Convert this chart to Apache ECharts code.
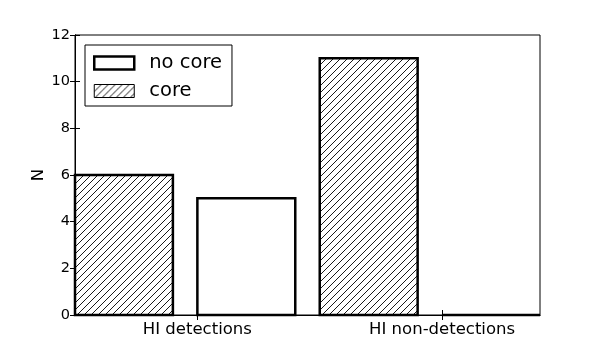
<!DOCTYPE html>
<html>
<head>
<meta charset="utf-8">
<script src="https://cdn.jsdelivr.net/npm/echarts@6/dist/echarts.min.js"></script>
<style>html,body{margin:0;padding:0;background:#fff}#c{width:600px;height:350px}</style>
</head>
<body>
<div id="c"></div>
<script>
const categories = ['HI detections', 'HI non-detections'];
const coreValues = [6, 11];
const noCoreValues = [5, 0];
const yTicks = [0, 2, 4, 6, 8, 10, 12];
const seriesNames = ['no core', 'core'];

const FONT = 'DejaVu Sans';
const BAR_W = 0.8;

function makeHatch() {
  const s = 7;
  const cv = document.createElement('canvas');
  cv.width = s; cv.height = s;
  const ctx = cv.getContext('2d');
  ctx.fillStyle = '#fff';
  ctx.fillRect(0, 0, s, s);
  ctx.strokeStyle = '#000';
  ctx.lineWidth = 0.9;
  ctx.beginPath();
  ctx.moveTo(-1, s + 1); ctx.lineTo(s + 1, -1);
  ctx.moveTo(-1, 1); ctx.lineTo(1, -1);
  ctx.moveTo(s - 1, s + 1); ctx.lineTo(s + 1, s - 1);
  ctx.stroke();
  return cv;
}
const hatch = { image: makeHatch(), repeat: 'repeat' };

// core bars at position 2*i, no-core bars at 2*i+1 (edge-aligned)
const coreData = coreValues.map((v, i) => [2 * i, v]);
const noCoreData = noCoreValues.map((v, i) => [2 * i + 1, v]);

function makeRender(fill, lw) {
  return function (params, api) {
    const x0 = api.value(0), v = api.value(1);
    const p0 = api.coord([x0, v]);
    const p1 = api.coord([x0 + BAR_W, 0]);
    return {
      type: 'rect',
      shape: { x: p0[0], y: p0[1], width: p1[0] - p0[0], height: p1[1] - p0[1] },
      style: { fill: fill, stroke: '#000', lineWidth: lw }
    };
  };
}

const chart = echarts.init(document.getElementById('c'), null, { renderer: 'canvas' });
chart.setOption({
  animation: false,
  backgroundColor: '#fff',
  textStyle: { fontFamily: FONT },
  grid: { left: 75, right: 60, top: 35, bottom: 35, show: true, borderColor: '#000', borderWidth: 1, backgroundColor: 'transparent' },
  legend: {
    orient: 'vertical',
    left: 85, top: 45,
    backgroundColor: '#fff',
    borderColor: '#000', borderWidth: 1,
    padding: [8, 10, 5, 8],
    itemWidth: 40, itemHeight: 13, itemGap: 8,
    textStyle: { fontFamily: FONT, fontSize: 19.5, color: '#000', padding: [0, 0, 0, 10] },
    data: [
      { name: seriesNames[0], icon: 'rect', itemStyle: { color: '#fff', borderColor: '#000', borderWidth: 2.5 } },
      { name: seriesNames[1], icon: 'rect', itemStyle: { color: hatch, borderColor: '#000', borderWidth: 1 } }
    ]
  },
  xAxis: [{
    type: 'value', min: 0, max: 3.8, interval: 1,
    axisLine: { show: true, lineStyle: { color: '#000', width: 1 } },
    axisTick: { show: true, inside: true, length: 5, lineStyle: { color: '#000' },
      customValues: [1, 3] },
    axisLabel: { show: true, color: '#000', fontFamily: FONT, fontSize: 16.5, margin: 6,
      customValues: [1, 3],
      formatter: function (v) { return categories[Math.round((v - 1) / 2)] || ''; } },
    splitLine: { show: false }
  }, {
    type: 'value', position: 'top', min: 0, max: 3.8, interval: 1,
    axisLine: { show: true, lineStyle: { color: '#000', width: 1 } },
    axisTick: { show: true, inside: true, length: 5, lineStyle: { color: '#000' }, customValues: [1, 3] },
    axisLabel: { show: false },
    splitLine: { show: false }
  }],
  yAxis: [{
    type: 'value', min: yTicks[0], max: yTicks[yTicks.length - 1], interval: 2,
    name: 'N', nameLocation: 'middle', nameGap: 28, nameMoveOverlap: false,
    nameTextStyle: { fontFamily: FONT, fontSize: 16.5, color: '#000' },
    axisLine: { show: true, lineStyle: { color: '#000', width: 1 } },
    axisTick: { show: true, inside: true, length: 5, lineStyle: { color: '#000' } },
    axisLabel: { color: '#000', fontFamily: FONT, fontSize: 14.5, margin: 5 },
    splitLine: { show: false }
  }, {
    type: 'value', position: 'right', min: yTicks[0], max: yTicks[yTicks.length - 1], interval: 2,
    axisLine: { show: true, lineStyle: { color: '#000', width: 1 } },
    axisTick: { show: true, inside: true, length: 5, lineStyle: { color: '#000' } },
    axisLabel: { show: false },
    splitLine: { show: false }
  }],
  series: [{
    name: seriesNames[0], type: 'custom', xAxisIndex: 0, yAxisIndex: 0,
    itemStyle: { color: '#fff', borderColor: '#000', borderWidth: 2.5 },
    renderItem: makeRender('#fff', 2.5),
    encode: { x: 0, y: 1 },
    data: noCoreData, z: 2
  }, {
    name: seriesNames[1], type: 'custom', xAxisIndex: 0, yAxisIndex: 0,
    itemStyle: { color: hatch, borderColor: '#000', borderWidth: 1 },
    renderItem: makeRender(hatch, 2.5),
    encode: { x: 0, y: 1 },
    data: coreData, z: 2
  }]
});
</script>
</body>
</html>
